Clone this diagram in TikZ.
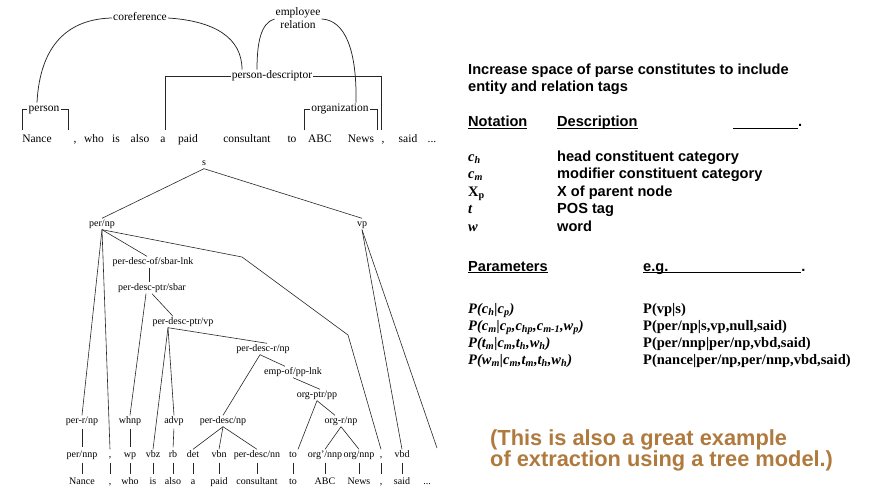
\documentclass[tikz,border=0pt]{standalone}
\usepackage{fontspec}
\setmainfont{Liberation Serif}
\newfontfamily\arialf{Liberation Sans}
\definecolor{ochre}{RGB}{176,122,62}
\begin{document}
\begin{tikzpicture}[x=1pt,y=-1pt,
  tn/.style={font=\fontsize{10}{12}\selectfont, inner sep=1pt, text height=7pt, text depth=2pt},
  topw/.style={font=\fontsize{11.5}{13}\selectfont, inner sep=1pt, text height=8pt, text depth=2.5pt},
  twoline/.style={font=\fontsize{11.5}{13}\selectfont, inner sep=1pt, align=center},
  br/.style={line width=0.75pt, draw=black!85},
  ln/.style={line width=0.6pt, draw=black!85},
  vl/.style={ln, shorten <=2pt, shorten >=2pt},
  hd/.style={font=\arialf\bfseries\fontsize{14.6}{17}\selectfont, anchor=base west, inner sep=0pt},
  sym/.style={font=\bfseries\itshape\fontsize{14.5}{17}\selectfont, anchor=base west, inner sep=0pt},
  ex/.style={font=\bfseries\fontsize{14.5}{17}\selectfont, anchor=base west, inner sep=0pt},
  note/.style={font=\arialf\bfseries\fontsize{21.8}{23}\selectfont, anchor=base west, inner sep=0pt, text=ochre}
]
\useasboundingbox (0,0) rectangle (871,487);

% ---------------- top annotated sentence ----------------
\node[topw] (coref) at (140,18) {coreference};
\node[twoline] (emp) at (298,18.5) {employee\\relation};
\node[topw] (pdesc) at (272,76) {person-descriptor};
\node[topw] (person) at (44,109) {person};
\node[topw] (org) at (340,109) {organization};

\node[topw] (w1) at (37,140) {Nance};
\node[topw] (w2) at (75,140) {,};
\node[topw] (w3) at (94,140) {who};
\node[topw] (w4) at (116,140) {is};
\node[topw] (w5) at (140,140) {also};
\node[topw] (w6) at (163,140) {a};
\node[topw] (w7) at (188,140) {paid};
\node[topw] (w8) at (247,140) {consultant};
\node[topw] (w9) at (292,140) {to};
\node[topw] (w10) at (320,140) {ABC};
\node[topw] (w11) at (361,140) {News};
\node[topw] (w12) at (383,140) {,};
\node[topw] (w13) at (408,140) {said};
\node[topw] (w14) at (432,140) {...};

\coordinate (pbl) at (22,130);
\coordinate (pbr) at (68,130);
\coordinate (dbl) at (165,130);
\coordinate (dbr) at (381,130);
\coordinate (obl) at (304,130);
\coordinate (obr) at (377,130);
\draw[br] (pbl) |- (person.west);
\draw[br] (person.east) -| (pbr);
\draw[br] (dbl) |- (pdesc.west);
\draw[br] (pdesc.east) -| (dbr);
\draw[br] (obl) |- (org.west);
\draw[br] (org.east) -| (obr);

\draw[br] (coref.west) .. controls (68,19) and (40,45) .. ([xshift=-7pt]person.north);
\draw[br] (coref.east) .. controls (215,21) and (242,38) .. ([xshift=-30pt]pdesc.north);
\draw[br] ([yshift=-0.5pt]emp.west) .. controls (261,23) and (257,42) .. ([xshift=-15pt]pdesc.north);
\draw[br] ([yshift=-0.5pt]emp.east) .. controls (345,20) and (357,50) .. ([xshift=16pt]org.north);

% ---------------- parse tree ----------------
\node[tn] (s) at (204,163) {s};
\node[tn] (pernp) at (102,224) {per/np};
\node[tn] (vp) at (362,224) {vp};
\node[tn] (sbarlnk) at (153,262) {per-desc-of/sbar-lnk};
\node[tn] (sbar) at (152,288) {per-desc-ptr/sbar};
\node[tn] (pvp) at (183,322) {per-desc-ptr/vp};
\node[tn] (prnp) at (263,349) {per-desc-r/np};
\node[tn] (emplnk) at (293,372) {emp-of/pp-lnk};
\node[tn] (orgpp) at (317,395) {org-ptr/pp};

\node[tn] (perrnp) at (82,421) {per-r/np};
\node[tn] (whnp) at (130,421) {whnp};
\node[tn] (advp) at (174,421) {advp};
\node[tn] (pdnp) at (223,421) {per-desc/np};
\node[tn] (orgrnp) at (341,421) {org-r/np};

\node[tn] (p1) at (82,455) {per/nnp};
\node[tn] (p2) at (110,455) {,};
\node[tn] (p3) at (130,455) {wp};
\node[tn] (p4) at (153,455) {vbz};
\node[tn] (p5) at (173,455) {rb};
\node[tn] (p6) at (193,455) {det};
\node[tn] (p7) at (219,455) {vbn};
\node[tn] (p8) at (257,455) {per-desc/nn};
\node[tn] (p9) at (293,455) {to};
\node[tn] (p10) at (325,455) {org'/nnp};
\node[tn] (p11) at (359,455) {org/nnp};
\node[tn] (p12) at (381,455) {,};
\node[tn] (p13) at (402,455) {vbd};
\coordinate (p14) at (437,448);

\node[tn] (t1) at (82,482) {Nance};
\node[tn] (t2) at (110,482) {,};
\node[tn] (t3) at (130,482) {who};
\node[tn] (t4) at (153,482) {is};
\node[tn] (t5) at (173,482) {also};
\node[tn] (t6) at (193,482) {a};
\node[tn] (t7) at (219,482) {paid};
\node[tn] (t8) at (257,482) {consultant};
\node[tn] (t9) at (293,482) {to};
\node[tn] (t10) at (325,482) {ABC};
\node[tn] (t11) at (359,482) {News};
\node[tn] (t12) at (381,482) {,};
\node[tn] (t13) at (402,482) {said};
\node[tn] (t14) at (427,482) {...};

\coordinate (k1) at (242,257);
\coordinate (k2) at (348,335);

\draw[ln] (s.south) -- (pernp.north);
\draw[ln] (s.south) -- (vp.north);
\draw[ln] (pernp.south) -- (perrnp.north);
\draw[ln] (pernp.south) -- (p2.north);
\draw[ln] (pernp.south) -- ([xshift=-6pt]sbarlnk.north);
\draw[ln] (pernp.south) -- (k1) -- (k2) -- (p12.north);
\draw[ln] (vp.south) -- (p13.north);
\draw[ln] (vp.south) -- (p14);
\draw[ln] ([xshift=-4pt]sbarlnk.south) -- ([xshift=-3pt]sbar.north);
\draw[ln] ([xshift=-6pt]sbar.south) -- (whnp.north);
\draw[ln] (sbar.south) -- ([xshift=-10pt]pvp.north);
\draw[ln] ([xshift=-15pt]pvp.south) -- (p4.north);
\draw[ln] ([xshift=-15pt]pvp.south) -- (advp.north);
\draw[ln] ([xshift=-15pt]pvp.south) -- ([xshift=4pt]prnp.north);
\draw[ln] ([xshift=-3pt]prnp.south) -- (pdnp.north);
\draw[ln] ([xshift=-3pt]prnp.south) -- ([xshift=-8pt]emplnk.north);
\draw[ln] (emplnk.south) -- ([xshift=3pt]orgpp.north);
\draw[ln] (orgpp.south) -- ([xshift=5pt]p9.north);
\draw[ln] (orgpp.south) -- ([xshift=-6pt]orgrnp.north);
\draw[vl] (perrnp.south) -- (p1.north);
\draw[vl] (whnp.south) -- (p3.north);
\draw[vl] (advp.south) -- (p5.north);
\draw[ln] (pdnp.south) -- (p6.north);
\draw[ln] (pdnp.south) -- (p7.north);
\draw[ln] (pdnp.south) -- (p8.north);
\draw[ln] (orgrnp.south) -- (p10.north);
\draw[ln] (orgrnp.south) -- (p11.north);
\foreach \i in {1,...,13} {\draw[vl] (p\i.south) -- (t\i.north);}

% ---------------- right-hand text ----------------
\node[hd] (h1) at (468,75) {Increase space of parse constitutes to include};
\node[hd] (h2) at (468,91.5) {entity and relation tags};
\node[hd] (nh) at (468,126.7) {\underline{\smash{Notation}}};
\node[hd] (dh) at (557,126.7) {\underline{\smash{Description}}};
\node[hd] (dl) at (733,126.7) {\underline{\makebox[65pt]{}}.};

\node[sym] (n1) at (468,161.5) {c\textsubscript{h}};
\node[sym] (n2) at (468,178.8) {c\textsubscript{m}};
\node[sym] (n3) at (468,196.2) {\upshape X\textsubscript{p}};
\node[sym] (n4) at (468,213.6) {t};
\node[sym] (n5) at (468,231) {w};
\node[hd] (d1) at (557,161.5) {head constituent category};
\node[hd] (d2) at (557,178.8) {modifier constituent category};
\node[hd] (d3) at (557,196.2) {X of parent node};
\node[hd] (d4) at (557,213.6) {POS tag};
\node[hd] (d5) at (557,231) {word};

\node[hd] (ph) at (468,271) {\underline{\smash{Parameters}}};
\node[hd] (eh) at (643,271) {\underline{\smash{e.g.}\makebox[133pt]{}}.};

\node[ex] (q1) at (468,313) {\textit{P(c\textsubscript{h}|c\textsubscript{p})}};
\node[ex] (q2) at (468,330.5) {\textit{P(c\textsubscript{m}|c\textsubscript{p},c\textsubscript{hp},c\textsubscript{m-1},w\textsubscript{p})}};
\node[ex] (q3) at (468,347.5) {\textit{P(t\textsubscript{m}|c\textsubscript{m},t\textsubscript{h},w\textsubscript{h})}};
\node[ex] (q4) at (468,364) {\textit{P(w\textsubscript{m}|c\textsubscript{m},t\textsubscript{m},t\textsubscript{h},w\textsubscript{h})}};
\node[ex] (e1) at (643,313) {P(vp|s)};
\node[ex] (e2) at (643,330.5) {P(per/np|s,vp,null,said)};
\node[ex] (e3) at (643,347.5) {P(per/nnp|per/np,vbd,said)};
\node[ex] (e4) at (643,364) {P(nance|per/np,per/nnp,vbd,said)};

\node[note] (o1) at (490,445) {(This is also a great example};
\node[note] (o2) at (490,466) {of extraction using a tree model.)};
\end{tikzpicture}
\end{document}
